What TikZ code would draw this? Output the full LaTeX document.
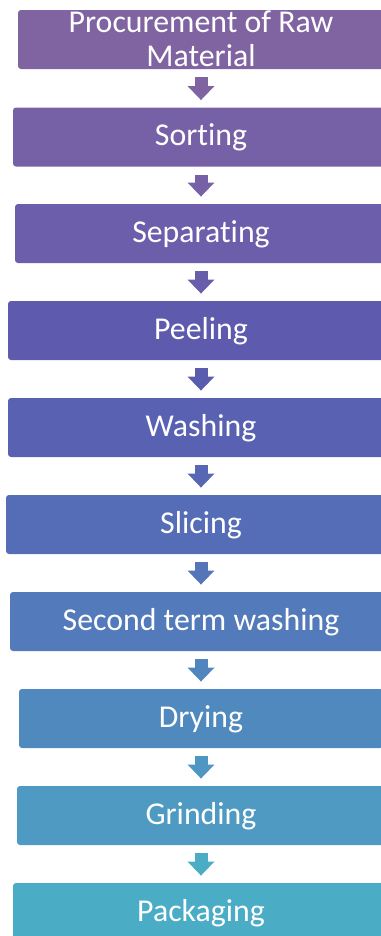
\documentclass[tikz,border=0pt]{standalone}
\usepackage{fontspec}
\setmainfont{Carlito}[Ligatures=NoCommon]
\usetikzlibrary{arrows.meta}
\usepackage{xcolor}
\definecolor{c0}{RGB}{128,100,162}
\definecolor{c1}{RGB}{119,97,166}
\definecolor{c2}{RGB}{108,94,170}
\definecolor{c3}{RGB}{94,91,174}
\definecolor{c4}{RGB}{88,97,178}
\definecolor{c5}{RGB}{85,108,182}
\definecolor{c6}{RGB}{83,122,186}
\definecolor{c7}{RGB}{80,137,190}
\definecolor{c8}{RGB}{78,154,194}
\definecolor{c9}{RGB}{75,172,198}
\definecolor{a0}{RGB}{128,100,162}
\definecolor{a1}{RGB}{118,97,167}
\definecolor{a2}{RGB}{104,93,171}
\definecolor{a3}{RGB}{90,92,176}
\definecolor{a4}{RGB}{87,103,180}
\definecolor{a5}{RGB}{84,117,185}
\definecolor{a6}{RGB}{81,133,189}
\definecolor{a7}{RGB}{78,151,194}
\definecolor{a8}{RGB}{75,172,198}

\begin{document}
\begin{tikzpicture}[x=0.75pt, y=-0.75pt, every node/.style={rounded corners=2.25pt, inner sep=0pt, minimum height=44.25pt, text=white, font=\fontsize{23.85}{25.5}\selectfont, text height=17pt, text depth=4pt}, flow/.style={line width=9.75pt, shorten <=5.8pt, shorten >=5.4pt, -{Triangle[width=20.25pt,length=10.5pt,line width=0pt]}}]
    \useasboundingbox (0,0) rectangle (380,936);
    \node[fill=c0, minimum width=274.5pt] (0) at (201,39.5) {\raisebox{-2.25pt}[0pt][0pt]{\begin{tabular}{@{}c@{}}Procurement of Raw\\Material\end{tabular}}};
    \node[fill=c1, minimum width=282pt] (1) at (201,137) {Sorting};
    \node[fill=c2, minimum width=279pt] (2) at (201,233.5) {Separating};
    \node[fill=c3, minimum width=289.5pt] (3) at (201,330.5) {Peeling};
    \node[fill=c4, minimum width=289.5pt] (4) at (201,427.5) {Washing};
    \node[fill=c5, minimum width=292.5pt] (5) at (201,524.5) {Slicing};
    \node[fill=c6, minimum width=286.5pt] (6) at (201,621.5) {Second term washing};
    \node[fill=c7, minimum width=273pt] (7) at (201,718.5) {Drying};
    \node[fill=c8, minimum width=276pt] (8) at (201,815.5) {Grinding};
    \node[fill=c9, minimum width=282pt] (9) at (201,912.5) {Packaging};
        \draw[flow, a0] (0) -- (1);
        \draw[flow, a1] (1) -- (2);
        \draw[flow, a2] (2) -- (3);
        \draw[flow, a3] (3) -- (4);
        \draw[flow, a4] (4) -- (5);
        \draw[flow, a5] (5) -- (6);
        \draw[flow, a6] (6) -- (7);
        \draw[flow, a7] (7) -- (8);
        \draw[flow, a8] (8) -- (9);
\end{tikzpicture}
\end{document}
